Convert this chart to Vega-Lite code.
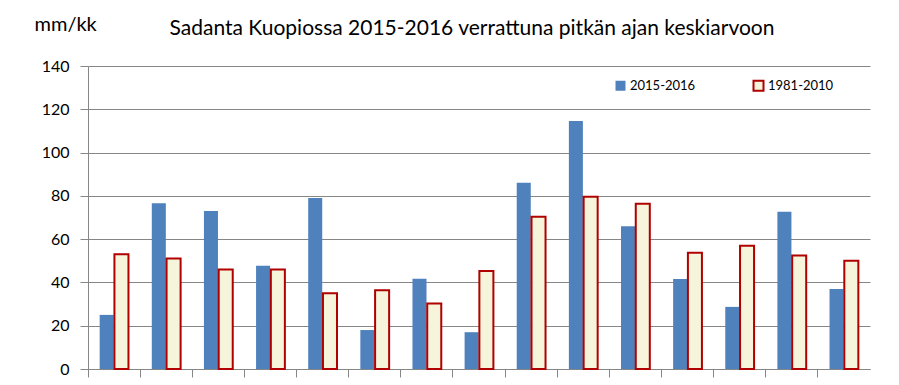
{
  "$schema": "https://vega.github.io/schema/vega-lite/v6.json",
  "width": 782,
  "height": 303,
  "autosize": {"type": "none"},
  "padding": {"left": 88, "top": 66, "right": 29, "bottom": 16},
  "background": "white",
  "config": {
    "font": "Lato",
    "view": {"stroke": null}
  },
  "title": {
    "text": "Sadanta Kuopiossa 2015-2016 verrattuna pitkän ajan keskiarvoon",
    "font": "Lato",
    "fontSize": 21,
    "fontWeight": "normal",
    "color": "#000000",
    "anchor": "middle",
    "dx": -7,
    "offset": -25
  },
  "data": {
    "values": [
      {"kk": "2015-10", "sarja": "2015-2016", "mm": 25},
      {"kk": "2015-10", "sarja": "1981-2010", "mm": 53},
      {"kk": "2015-11", "sarja": "2015-2016", "mm": 76.6},
      {"kk": "2015-11", "sarja": "1981-2010", "mm": 51},
      {"kk": "2015-12", "sarja": "2015-2016", "mm": 73},
      {"kk": "2015-12", "sarja": "1981-2010", "mm": 46},
      {"kk": "2016-01", "sarja": "2015-2016", "mm": 47.7},
      {"kk": "2016-01", "sarja": "1981-2010", "mm": 46},
      {"kk": "2016-02", "sarja": "2015-2016", "mm": 79},
      {"kk": "2016-02", "sarja": "1981-2010", "mm": 35},
      {"kk": "2016-03", "sarja": "2015-2016", "mm": 18},
      {"kk": "2016-03", "sarja": "1981-2010", "mm": 36.4},
      {"kk": "2016-04", "sarja": "2015-2016", "mm": 41.7},
      {"kk": "2016-04", "sarja": "1981-2010", "mm": 30.3},
      {"kk": "2016-05", "sarja": "2015-2016", "mm": 17},
      {"kk": "2016-05", "sarja": "1981-2010", "mm": 45.3},
      {"kk": "2016-06", "sarja": "2015-2016", "mm": 86},
      {"kk": "2016-06", "sarja": "1981-2010", "mm": 70.4},
      {"kk": "2016-07", "sarja": "2015-2016", "mm": 114.6},
      {"kk": "2016-07", "sarja": "1981-2010", "mm": 79.6},
      {"kk": "2016-08", "sarja": "2015-2016", "mm": 66},
      {"kk": "2016-08", "sarja": "1981-2010", "mm": 76.4},
      {"kk": "2016-09", "sarja": "2015-2016", "mm": 41.6},
      {"kk": "2016-09", "sarja": "1981-2010", "mm": 53.7},
      {"kk": "2016-10", "sarja": "2015-2016", "mm": 28.7},
      {"kk": "2016-10", "sarja": "1981-2010", "mm": 57},
      {"kk": "2016-11", "sarja": "2015-2016", "mm": 72.6},
      {"kk": "2016-11", "sarja": "1981-2010", "mm": 52.5},
      {"kk": "2016-12", "sarja": "2015-2016", "mm": 37},
      {"kk": "2016-12", "sarja": "1981-2010", "mm": 50}
    ]
  },
  "mark": {"type": "bar", "strokeWidth": 2},
  "encoding": {
    "x": {
      "field": "kk",
      "type": "nominal",
      "sort": null,
      "scale": {"paddingInner": 0, "paddingOuter": 0},
      "axis": {
        "title": null,
        "labels": false,
        "bandPosition": 0,
        "domainColor": "#868686",
        "tickColor": "#868686",
        "tickSize": 8,
        "grid": false
      }
    },
    "xOffset": {
      "field": "sarja",
      "type": "nominal",
      "sort": ["2015-2016", "1981-2010"],
      "scale": {"paddingInner": 0.05, "paddingOuter": 0.79}
    },
    "y": {
      "field": "mm",
      "type": "quantitative",
      "scale": {"domain": [0, 140], "nice": false},
      "axis": {
        "values": [0, 20, 40, 60, 80, 100, 120, 140],
        "title": "mm/kk",
        "titleAngle": 0,
        "titleAlign": "left",
        "titleBaseline": "alphabetic",
        "titleX": -54,
        "titleY": -36,
        "titleFont": "Lato",
        "titleFontSize": 20,
        "titleFontWeight": "normal",
        "titleColor": "#000000",
        "labelFont": "Lato",
        "labelFontSize": 16,
        "labelColor": "#000000",
        "labelPadding": 11,
        "domainColor": "#868686",
        "tickColor": "#868686",
        "tickSize": 8,
        "gridColor": "#868686",
        "gridWidth": 1
      }
    },
    "fill": {
      "field": "sarja",
      "type": "nominal",
      "sort": ["2015-2016", "1981-2010"],
      "scale": {"domain": ["2015-2016", "1981-2010"], "range": ["#4f81bd", "#f7f4dc"]},
      "legend": {
        "title": null,
        "orient": "none",
        "legendX": 526,
        "legendY": 13,
        "direction": "horizontal",
        "symbolType": "square",
        "symbolSize": 100,
        "symbolStrokeWidth": 2,
        "labelFont": "Lato",
        "labelFontSize": 13,
        "labelColor": "#000000",
        "labelOffset": 3,
        "columnPadding": 53
      }
    },
    "stroke": {
      "field": "sarja",
      "type": "nominal",
      "sort": ["2015-2016", "1981-2010"],
      "scale": {"domain": ["2015-2016", "1981-2010"], "range": ["rgba(0,0,0,0)", "#b00000"]},
      "legend": {
        "title": null,
        "orient": "none",
        "legendX": 526,
        "legendY": 13,
        "direction": "horizontal",
        "symbolType": "square",
        "symbolSize": 100,
        "symbolStrokeWidth": 2,
        "labelFont": "Lato",
        "labelFontSize": 13,
        "labelColor": "#000000",
        "labelOffset": 3,
        "columnPadding": 53
      }
    }
  }
}
